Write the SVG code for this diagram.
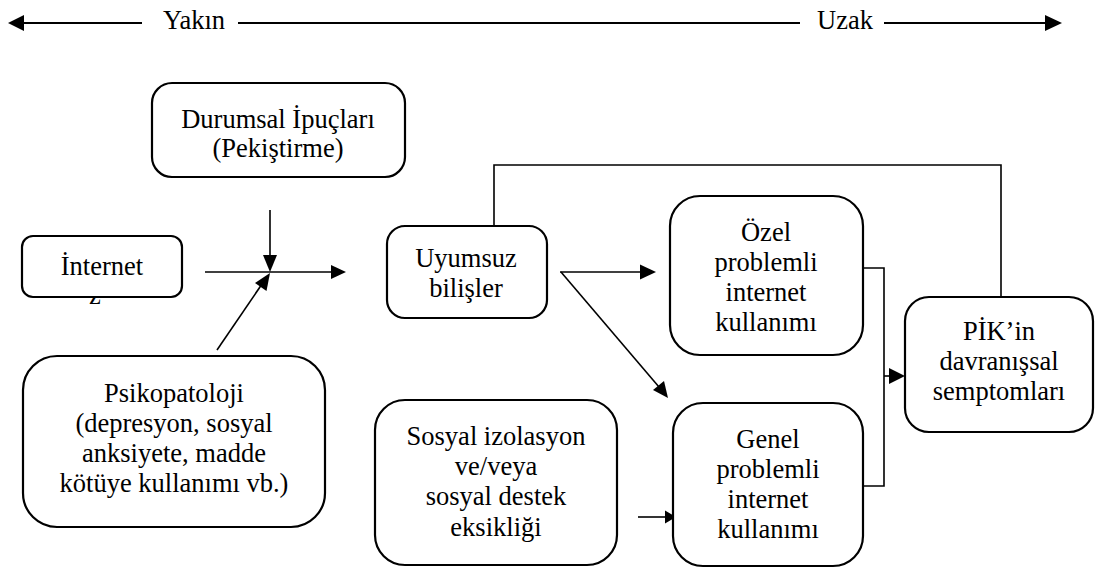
<svg xmlns="http://www.w3.org/2000/svg" width="1102" height="569" viewBox="0 0 1102 569">
<style>
.box{fill:#fff;stroke:#000;stroke-width:2.2}
.t{font-family:'Liberation Serif',Tinos,'Times New Roman','DejaVu Serif',serif;font-size:26.5px;fill:#000;text-anchor:middle}
.c{fill:none;stroke:#000;stroke-width:1.6}
.top{fill:none;stroke:#000;stroke-width:2}
.ah{fill:#000;stroke:none}
</style>
<rect width="1102" height="569" fill="#fff"/>
<g id="scale">
<line class="top" x1="22" y1="23" x2="142" y2="23"/>
<polygon class="ah" points="8,23 24,15 24,31"/>
<text class="t" x="194" y="29" font-family="Liberation Serif, serif">Yakın</text>
<line class="top" x1="238" y1="23" x2="800" y2="23"/>
<text class="t" x="845" y="29" font-family="Liberation Serif, serif">Uzak</text>
<line class="top" x1="884" y1="23" x2="1047" y2="23"/>
<polygon class="ah" points="1062,23 1045,15 1045,31"/>
</g>
<g id="connectors">
<line class="c" x1="270" y1="210" x2="270" y2="258"/>
<polygon class="ah" points="270,272 263,255 277,255"/>
<line class="c" x1="205" y1="272" x2="333" y2="272"/>
<polygon class="ah" points="346,272 331,265 331,279"/>
<line class="c" x1="217" y1="350" x2="262" y2="284"/>
<polygon class="ah" points="270,273 266.5,291 255,283"/>
<line class="c" x1="560" y1="272" x2="642" y2="272"/>
<polygon class="ah" points="656,272 640,264.5 640,279.5"/>
<line class="c" x1="561" y1="272" x2="659" y2="387"/>
<polygon class="ah" points="668,398 653,390 664,381"/>
<polyline class="c" points="494,226 494,165 1001,165 1001,297"/>
<polyline class="c" points="863,268 884,268 884,486 863,486"/>
<line class="c" x1="884" y1="376" x2="892" y2="376"/>
<polygon class="ah" points="905,376 889,368 889,384"/>
<line class="c" x1="638" y1="517" x2="668" y2="517"/>
<polygon class="ah" points="676,517 665,510.5 665,523.5"/>
</g>
<g id="durumsal">
<rect class="box" x="152" y="83" width="253" height="94" rx="20"/>
<text class="t" x="278" y="128">Durumsal İpuçları</text>
<text class="t" x="278" y="157">(Pekiştirme)</text>
</g>
<g id="internet">
<text class="t" x="95" y="304">z</text>
<rect class="box" x="22" y="236" width="160" height="61" rx="11"/>
<text class="t" x="102" y="275">İnternet</text>
</g>
<g id="psikopatoloji">
<rect class="box" x="23" y="356" width="302" height="171" rx="34"/>
<text class="t" x="174" y="402">Psikopatoloji</text>
<text class="t" x="174" y="432">(depresyon, sosyal</text>
<text class="t" x="174" y="462">anksiyete, madde</text>
<text class="t" x="174" y="492">kötüye kullanımı vb.)</text>
</g>
<g id="uyumsuz">
<rect class="box" x="387" y="226" width="160" height="92" rx="18"/>
<text class="t" x="466" y="267">Uyumsuz</text>
<text class="t" x="466" y="297">bilişler</text>
</g>
<g id="sosyal">
<rect class="box" x="375" y="400" width="242" height="165" rx="30"/>
<text class="t" x="496" y="445">Sosyal izolasyon</text>
<text class="t" x="496" y="475">ve/veya</text>
<text class="t" x="496" y="505">sosyal destek</text>
<text class="t" x="496" y="536">eksikliği</text>
</g>
<g id="ozel">
<rect class="box" x="670" y="196" width="193" height="159" rx="30"/>
<text class="t" x="766" y="241">Özel</text>
<text class="t" x="766" y="271">problemli</text>
<text class="t" x="766" y="301">internet</text>
<text class="t" x="766" y="331">kullanımı</text>
</g>
<g id="genel">
<rect class="box" x="673" y="403" width="190" height="163" rx="30"/>
<text class="t" x="768" y="448">Genel</text>
<text class="t" x="768" y="478">problemli</text>
<text class="t" x="768" y="508">internet</text>
<text class="t" x="768" y="538">kullanımı</text>
</g>
<g id="pik">
<rect class="box" x="905" y="297" width="188" height="135" rx="24"/>
<text class="t" x="999" y="340">PİK’in</text>
<text class="t" x="999" y="370">davranışsal</text>
<text class="t" x="999" y="400">semptomları</text>
</g>
</svg>
